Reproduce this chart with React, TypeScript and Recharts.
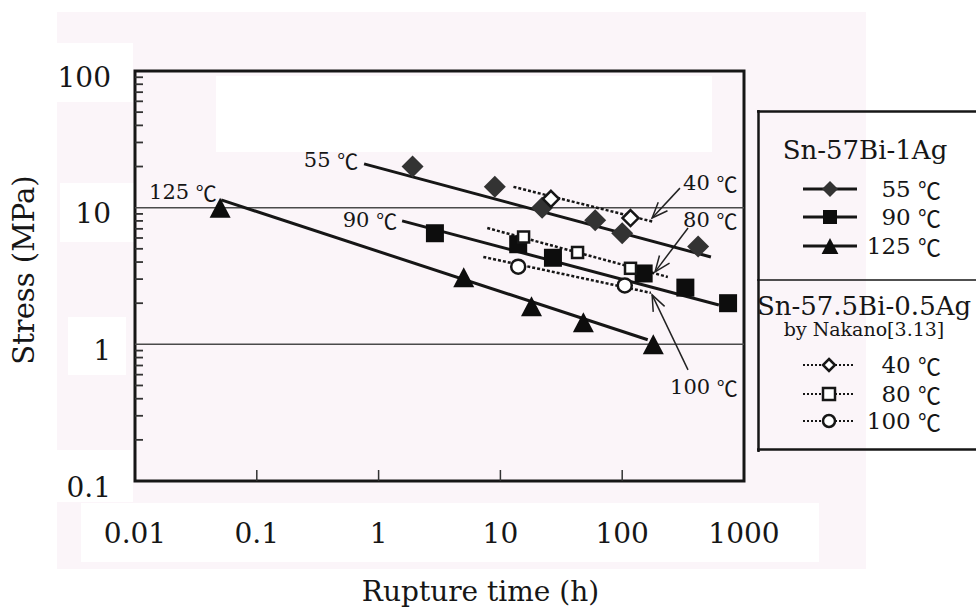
import React from "react";
import {
  ScatterChart,
  Scatter,
  XAxis,
  YAxis,
  ReferenceLine,
  ReferenceArea,
  ReferenceDot,
  Legend,
} from "recharts";

const FONT = '"DejaVu Serif", "Liberation Serif", serif';
const CJK = '"Noto Sans CJK JP", "Noto Sans CJK SC", sans-serif';
const INK = "#161616";

// axis ticks
const xTicks = [0.01, 0.1, 1, 10, 100, 1000];
const yMajor = [0.1, 1, 10, 100];
const yMinor = [
  0.2, 0.3, 0.4, 0.5, 0.6, 0.7, 0.8, 0.9,
  2, 3, 4, 5, 6, 7, 8, 9,
  20, 30, 40, 50, 60, 70, 80, 90,
];

// Sn-57Bi-1Ag : rupture time (h) / stress (MPa)
const time55 = [1.9, 9, 22, 60, 100, 420];
const stress55 = [20, 14.2, 10, 8.1, 6.5, 5.2];
const time90 = [2.9, 14, 27, 150, 330, 740];
const stress90 = [6.5, 5.4, 4.3, 3.3, 2.6, 2.0];
const time125 = [0.05, 5, 18, 48, 180];
const stress125 = [10, 3.1, 1.9, 1.45, 1.0];

// fitted lines (end points)
const fitTime55 = [0.76, 535];
const fitStress55 = [20.9, 4.36];
const fitTime90 = [1.56, 622];
const fitStress90 = [8.0, 1.94];
const fitTime125 = [0.051, 162];
const fitStress125 = [11.4, 1.08];

// Sn-57.5Bi-0.5Ag by Nakano
const time40 = [26, 117];
const stress40 = [11.6, 8.4];
const time80 = [15.5, 43, 117];
const stress80 = [6.1, 4.7, 3.6];
const time100 = [14, 105];
const stress100 = [3.7, 2.7];

const dotTime40 = [12.8, 182];
const dotStress40 = [14.2, 7.86];
const dotTime80 = [7.8, 237];
const dotStress80 = [7.1, 3.11];
const dotTime100 = [7.24, 172];
const dotStress100 = [4.36, 2.38];

const kimTemps = ["55 ℃", "90 ℃", "125 ℃"];
const nakanoTemps = ["40 ℃", "80 ℃", "100 ℃"];

// in-plot labels
const noteText = ["55 ℃", "90 ℃", "125 ℃", "40 ℃", "80 ℃", "100 ℃"];
const noteTime = [0.68, 1.42, 0.047, 316, 316, 247];
const noteStress = [22.3, 8.1, 13.0, 15.2, 8.1, 0.49];
const noteAnchor = ["end", "end", "end", "start", "start", "start"];

// arrows: tail -> head
const arrowTailTime = [298, 347, 347];
const arrowTailStress = [13.9, 7.1, 0.65];
const arrowHeadTime = [176, 186, 176];
const arrowHeadStress = [8.4, 3.39, 2.3];

const zip = (xs: number[], ys: number[]) => xs.map((x, i) => ({ x, y: ys[i] }));

// degree sign is full-width in the original
const temp = (s: string) => {
  const [num] = s.split("℃");
  return (
    <>
      {num}
      <tspan fontFamily={CJK}>℃</tspan>
    </>
  );
};

const FilledDiamond = ({ cx, cy, s = 11 }: any) => (
  <path d={`M${cx},${cy - s}L${cx + s},${cy}L${cx},${cy + s}L${cx - s},${cy}Z`} fill="#333" />
);
const FilledSquare = ({ cx, cy, s = 9 }: any) => (
  <rect x={cx - s} y={cy - s} width={2 * s} height={2 * s} fill="#0d0d0d" />
);
const FilledTriangle = ({ cx, cy, s = 10 }: any) => (
  <path d={`M${cx},${cy - s}L${cx + s * 1.05},${cy + s}L${cx - s * 1.05},${cy + s}Z`} fill="#0d0d0d" />
);
const OpenDiamond = ({ cx, cy, s = 8 }: any) => (
  <path
    d={`M${cx},${cy - s}L${cx + s},${cy}L${cx},${cy + s}L${cx - s},${cy}Z`}
    fill="#fff"
    stroke={INK}
    strokeWidth={2.5}
  />
);
const OpenSquare = ({ cx, cy, s = 5.5 }: any) => (
  <rect x={cx - s} y={cy - s} width={2 * s} height={2 * s} fill="#fff" stroke={INK} strokeWidth={2.5} />
);
const OpenCircle = ({ cx, cy, s = 7 }: any) => (
  <circle cx={cx} cy={cy} r={s} fill="#fff" stroke={INK} strokeWidth={2.5} />
);
const NoMark = () => <g />;

const kimMarks = [FilledDiamond, FilledSquare, FilledTriangle];
const nakanoMarks = [OpenDiamond, OpenSquare, OpenCircle];

const XTick = ({ x, y, payload }: any) => {
  const v = payload.value;
  const inner = v > 0.01 && v < 1000;
  return (
    <g>
      {inner && <line x1={x} y1={y} x2={x} y2={y - 11} stroke="#333" strokeWidth={1.5} />}
      <text x={x} y={y + 52} textAnchor="middle" dominantBaseline="central" fontFamily={FONT} fontSize={28} fill={INK}>
        {String(v)}
      </text>
    </g>
  );
};

const YTick = ({ x, y, payload }: any) => {
  const v = payload.value;
  if (!yMajor.includes(v)) {
    return <line x1={x} y1={y} x2={x + 8} y2={y} stroke="#333" strokeWidth={1.8} />;
  }
  return (
    <text x={x - 24} y={y + 6} textAnchor="end" dominantBaseline="central" fontFamily={FONT} fontSize={28} fill={INK}>
      {String(v)}
    </text>
  );
};

const Arrow = ({ x1, y1, x2, y2 }: any) => {
  const a = Math.atan2(y2 - y1, x2 - x1);
  const L = 17;
  const w = 0.38;
  const p1 = `${x2 - L * Math.cos(a - w)},${y2 - L * Math.sin(a - w)}`;
  const p2 = `${x2 - L * Math.cos(a + w)},${y2 - L * Math.sin(a + w)}`;
  return (
    <g stroke="#222" strokeWidth={1.5} fill="none">
      <line x1={x1} y1={y1} x2={x2} y2={y2} />
      <polyline points={`${p1} ${x2},${y2} ${p2}`} />
    </g>
  );
};

const LegendBox = () => {
  const rowKim = [79, 107, 136];
  const rowNak = [255, 284, 311];
  return (
    <svg width={219} height={342} style={{ display: "block" }}>
      <line x1={1.5} y1={0} x2={1.5} y2={342} stroke={INK} strokeWidth={2.5} />
      <line x1={0} y1={1.5} x2={219} y2={1.5} stroke={INK} strokeWidth={2.5} />
      <line x1={0} y1={339.5} x2={219} y2={339.5} stroke={INK} strokeWidth={2.5} />
      <line x1={0} y1={170} x2={219} y2={170} stroke={INK} strokeWidth={1.5} />
      <text x={108} y={40} textAnchor="middle" dominantBaseline="central" fontFamily={FONT} fontSize={26} fill={INK}>
        Sn-57Bi-1Ag
      </text>
      {kimTemps.map((t, i) => {
        const M = kimMarks[i];
        return (
          <g key={t}>
            <line x1={46} y1={rowKim[i]} x2={100} y2={rowKim[i]} stroke={INK} strokeWidth={3} />
            <M cx={73} cy={rowKim[i]} s={i === 1 ? 7 : 8} />
            <text x={184} y={rowKim[i]} textAnchor="end" dominantBaseline="central" fontFamily={FONT} fontSize={23} fill={INK}>
              {temp(t)}
            </text>
          </g>
        );
      })}
      <text x={107} y={196} textAnchor="middle" dominantBaseline="central" fontFamily={FONT} fontSize={26} fill={INK}>
        Sn-57.5Bi-0.5Ag
      </text>
      <text x={107} y={219} textAnchor="middle" dominantBaseline="central" fontFamily={FONT} fontSize={19} fill={INK}>
        by Nakano[3.13]
      </text>
      {nakanoTemps.map((t, i) => {
        const M = nakanoMarks[i];
        return (
          <g key={t}>
            <line x1={46} y1={rowNak[i]} x2={98} y2={rowNak[i]} stroke={INK} strokeWidth={2} strokeDasharray="2 2" />
            <M cx={72} cy={rowNak[i]} s={6} />
            <text x={184} y={rowNak[i]} textAnchor="end" dominantBaseline="central" fontFamily={FONT} fontSize={23} fill={INK}>
              {temp(t)}
            </text>
          </g>
        );
      })}
    </svg>
  );
};

// scanned-page backdrop
const PINK = "#fbf5f9";
const patches = [
  { left: 57, top: 43, width: 76, height: 59 },
  { left: 60, top: 183, width: 75, height: 59 },
  { left: 68, top: 317, width: 58, height: 58 },
  { left: 57, top: 450, width: 76, height: 52 },
  { left: 81, top: 503, width: 738, height: 59 },
  { left: 216, top: 76, width: 496, height: 76 },
];

export default function App() {
  return (
    <div style={{ position: "absolute", left: 0, top: 0, width: 976, height: 608, overflow: "hidden", background: "#fff" }}>
      <div style={{ position: "absolute", left: 57, top: 12, width: 809, height: 557, background: PINK }} />
      {patches.map((p, i) => (
        <div key={i} style={{ position: "absolute", background: "#fff", ...p }} />
      ))}
      <ScatterChart width={976} height={608} margin={{ top: 71, right: 232, bottom: 0, left: 0 }}>
        <XAxis
          type="number"
          dataKey="x"
          scale="log"
          domain={[0.01, 1000]}
          ticks={xTicks}
          interval={0}
          allowDataOverflow
          height={127}
          axisLine={false}
          tickLine={false}
          tickSize={0}
          tickMargin={0}
          tick={<XTick />}
          label={(p: any) => (
            <text
              x={p.viewBox.x + p.viewBox.width / 2 + 41}
              y={p.viewBox.y + 110}
              textAnchor="middle"
              dominantBaseline="central"
              fontFamily={FONT}
              fontSize={28}
              fill={INK}
            >
              Rupture time (h)
            </text>
          )}
        />
        <YAxis
          type="number"
          dataKey="y"
          scale="log"
          domain={[0.1, 100]}
          ticks={[...yMajor, ...yMinor]}
          interval={0}
          allowDataOverflow
          width={135}
          axisLine={false}
          tickLine={false}
          tickSize={0}
          tickMargin={0}
          tick={<YTick />}
          label={(p: any) => {
            const cx = p.viewBox.x + 24;
            const cy = p.viewBox.y + p.viewBox.height / 2 - 6;
            return (
              <text
                x={cx}
                y={cy}
                transform={`rotate(-90 ${cx} ${cy})`}
                textAnchor="middle"
                dominantBaseline="central"
                fontFamily={FONT}
                fontSize={29}
                fill={INK}
              >
                Stress (MPa)
              </text>
            );
          }}
        />
        <ReferenceLine y={10} stroke="#4a4a4a" strokeWidth={1.5} />
        <ReferenceLine y={1} stroke="#4a4a4a" strokeWidth={1.5} />

        <Scatter data={zip(fitTime55, fitStress55)} fill={INK} line={{ stroke: INK, strokeWidth: 3 }} shape={NoMark} legendType="none" isAnimationActive={false} />
        <Scatter data={zip(fitTime90, fitStress90)} fill={INK} line={{ stroke: INK, strokeWidth: 3 }} shape={NoMark} legendType="none" isAnimationActive={false} />
        <Scatter data={zip(fitTime125, fitStress125)} fill={INK} line={{ stroke: INK, strokeWidth: 3 }} shape={NoMark} legendType="none" isAnimationActive={false} />
        <Scatter data={zip(dotTime40, dotStress40)} fill={INK} line={{ stroke: INK, strokeWidth: 2.5, strokeDasharray: "3 2" }} shape={NoMark} legendType="none" isAnimationActive={false} />
        <Scatter data={zip(dotTime80, dotStress80)} fill={INK} line={{ stroke: INK, strokeWidth: 2.5, strokeDasharray: "3 2" }} shape={NoMark} legendType="none" isAnimationActive={false} />
        <Scatter data={zip(dotTime100, dotStress100)} fill={INK} line={{ stroke: INK, strokeWidth: 2.5, strokeDasharray: "3 2" }} shape={NoMark} legendType="none" isAnimationActive={false} />

        <Scatter name={kimTemps[0]} data={zip(time55, stress55)} shape={FilledDiamond} isAnimationActive={false} />
        <Scatter name={kimTemps[1]} data={zip(time90, stress90)} shape={FilledSquare} isAnimationActive={false} />
        <Scatter name={kimTemps[2]} data={zip(time125, stress125)} shape={FilledTriangle} isAnimationActive={false} />
        <Scatter name={nakanoTemps[0]} data={zip(time40, stress40)} shape={OpenDiamond} isAnimationActive={false} />
        <Scatter name={nakanoTemps[1]} data={zip(time80, stress80)} shape={OpenSquare} isAnimationActive={false} />
        <Scatter name={nakanoTemps[2]} data={zip(time100, stress100)} shape={OpenCircle} isAnimationActive={false} />

        {arrowTailTime.map((t, i) => (
          <ReferenceLine
            key={`arrow-${i}`}
            segment={[
              { x: t, y: arrowTailStress[i] },
              { x: arrowHeadTime[i], y: arrowHeadStress[i] },
            ]}
            ifOverflow="visible"
            shape={Arrow}
          />
        ))}
        {noteText.map((txt, i) => (
          <ReferenceDot
            key={`note-${i}`}
            x={noteTime[i]}
            y={noteStress[i]}
            r={1}
            ifOverflow="visible"
            shape={(p: any) => (
              <text
                x={p.cx}
                y={p.cy}
                textAnchor={noteAnchor[i] as any}
                dominantBaseline="central"
                fontFamily={FONT}
                fontSize={21}
                fill={INK}
              >
                {temp(txt)}
              </text>
            )}
          />
        ))}

        <ReferenceArea x1={0.01} x2={1000} y1={0.1} y2={100} fill="none" stroke={INK} strokeWidth={3} ifOverflow="visible" />

        <Legend
          layout="vertical"
          align="center"
          verticalAlign="middle"
          wrapperStyle={{ left: 757, top: 110, width: 219, height: 342, overflow: "hidden" }}
          content={<LegendBox />}
        />
      </ScatterChart>
    </div>
  );
}
